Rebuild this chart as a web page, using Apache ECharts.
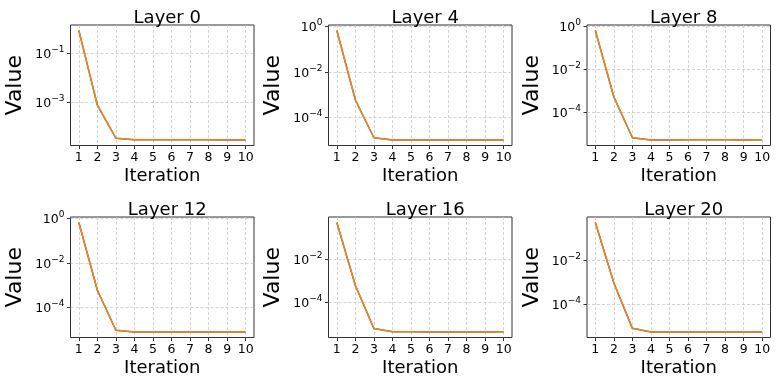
<!DOCTYPE html>
<html><head><meta charset="utf-8">
<script src="https://cdn.jsdelivr.net/npm/echarts@6/dist/echarts.min.js"></script>
<style>html,body{margin:0;padding:0;background:#fff}#c{width:778px;height:381px}</style>
</head><body><div id="c"></div>
<script>
var iterations = [1,2,3,4,5,6,7,8,9,10];
var layerNames = ['Layer 0','Layer 4','Layer 8','Layer 12','Layer 16','Layer 20'];
var layer0 = [0.82, 7.8e-4, 3.6e-5, 3.1e-5, 3.1e-5, 3.1e-5, 3.1e-5, 3.1e-5, 3.05e-5, 3.05e-5];
var layer4 = [0.67, 5.8e-4, 1.26e-5, 1.0e-5, 1.0e-5, 1.0e-5, 1.0e-5, 1.0e-5, 1.0e-5, 1.0e-5];
var layer8 = [0.61, 5.1e-4, 6.6e-6, 5.2e-6, 5.2e-6, 5.3e-6, 5.3e-6, 5.3e-6, 5.2e-6, 5.4e-6];
var layer12 = [0.66, 6.0e-4, 9.6e-6, 8.1e-6, 8.0e-6, 8.0e-6, 8.0e-6, 8.0e-6, 8.1e-6, 8.1e-6];
var layer16 = [0.47, 5.9e-4, 6.2e-6, 4.4e-6, 4.4e-6, 4.3e-6, 4.3e-6, 4.3e-6, 4.3e-6, 4.4e-6];
var layer20 = [0.52, 8.9e-4, 7.5e-6, 5.1e-6, 5.1e-6, 5.1e-6, 5.1e-6, 5.1e-6, 5.1e-6, 5.1e-6];
var yTicks = [[1e-1, 1e-3], [1, 1e-2, 1e-4], [1, 1e-2, 1e-4], [1, 1e-2, 1e-4], [1e-2, 1e-4], [1e-2, 1e-4]];
var xTicks = [1,2,3,4,5,6,7,8,9,10];

var allData = [layer0, layer4, layer8, layer12, layer16, layer20];
var FONT = 'DejaVu Sans';
var lefts = [70.5, 328.5, 587], tops = [25, 217], W = 183.5, H = 120.5;
var grid = [], xAxis = [], yAxis = [], series = [], title = [];
function sup(v){
  var e = Math.round(Math.log10(v));
  var s = e < 0 ? '\u2212' + (-e) : String(e);
  return '{b|10}{s|' + s + '}';
}
for (var i = 0; i < 6; i++) {
  var r = Math.floor(i / 3), c = i % 3;
  var d = allData[i];
  var lo = Math.log10(Math.min.apply(null, d)), hi = Math.log10(Math.max.apply(null, d));
  var pad = 0.05 * (hi - lo);
  grid.push({left: lefts[c], top: tops[r], width: W, height: H, show: true, borderColor: '#333', borderWidth: 1, backgroundColor: 'transparent'});
  title.push({text: layerNames[i], left: lefts[c] + W / 2, top: tops[r] - 21, textAlign: 'center',
    textStyle: {fontFamily: FONT, fontSize: 18, fontWeight: 'normal', color: '#000'}});
  xAxis.push({type: 'value', gridIndex: i, min: 0.55, max: 10.45,
    name: 'Iteration', nameLocation: 'middle', nameGap: 22,
    nameTextStyle: {fontFamily: FONT, fontSize: 18, color: '#000'},
    axisLine: {show: false},
    axisTick: {show: true, inside: false, length: 3.5, lineStyle: {color: '#333'}, customValues: xTicks},
    axisLabel: {customValues: xTicks, fontFamily: FONT, fontSize: 12.5, color: '#000', margin: 6},
    splitLine: {show: true, lineStyle: {color: '#c8c8c8', type: [3, 2], width: 0.8}}
  });
  yAxis.push({type: 'log', gridIndex: i, min: Math.pow(10, lo - pad), max: Math.pow(10, hi + pad),
    name: 'Value', nameLocation: 'middle', nameGap: 44, nameRotate: 90,
    nameTextStyle: {fontFamily: FONT, fontSize: 22, color: '#000'},
    axisLine: {show: false},
    axisTick: {show: true, inside: false, length: 3.5, lineStyle: {color: '#333'}, customValues: yTicks[i]},
    axisLabel: {customValues: yTicks[i], formatter: sup, margin: 6,
      rich: {b: {fontFamily: FONT, fontSize: 12.5, color: '#000', verticalAlign: 'bottom', lineHeight: 16},
             s: {fontFamily: FONT, fontSize: 9, color: '#000', verticalAlign: 'top', lineHeight: 16}}},
    splitLine: {show: true, lineStyle: {color: '#c8c8c8', type: [3, 2], width: 0.8}}
  });
  var pts = iterations.map(function (x, k) { return [x, d[k]]; });
  series.push({type: 'line', xAxisIndex: i, yAxisIndex: i, data: pts, showSymbol: false, symbol: 'none',
    lineStyle: {color: '#1f77b4', width: 1.5}, animation: false, z: 2});
  series.push({type: 'line', xAxisIndex: i, yAxisIndex: i, data: pts, showSymbol: false, symbol: 'none',
    lineStyle: {color: '#ff7f0e', width: 1.5}, animation: false, z: 3});
}
var chart = echarts.init(document.getElementById('c'), null, {renderer: 'canvas'});
chart.setOption({animation: false, backgroundColor: '#fff', title: title, grid: grid, xAxis: xAxis, yAxis: yAxis, series: series});
</script></body></html>
